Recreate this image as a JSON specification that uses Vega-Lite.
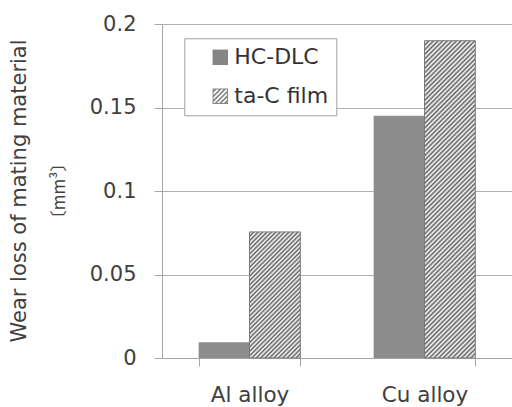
{
  "$schema": "https://vega.github.io/schema/vega-lite/v6.json",
  "width": 350,
  "height": 334,
  "autosize": "none",
  "padding": {"left": 162, "top": 24, "right": 0, "bottom": 49},
  "background": "white",
  "title": {"text": "Wear loss of mating material", "subtitle": "〔mm³〕", "orient": "left", "anchor": "middle", "frame": "group", "offset": 21, "font": "DejaVu Sans", "fontSize": 21, "fontWeight": "normal", "color": "#404040", "subtitleFont": "Noto Sans CJK JP", "subtitleFontSize": 17, "subtitleColor": "#404040", "subtitlePadding": 22},
  "data": {"values": [
    {"material": "Al alloy", "film": "HC-DLC", "wear": 0.0095},
    {"material": "Al alloy", "film": "ta-C film", "wear": 0.0755},
    {"material": "Cu alloy", "film": "HC-DLC", "wear": 0.145},
    {"material": "Cu alloy", "film": "ta-C film", "wear": 0.19}
  ]},
  "encoding": {
    "x": {"field": "material", "type": "nominal", "sort": null,
      "scale": {"paddingInner": 0.419, "paddingOuter": 0.2095},
      "axis": {"title": null, "labelAngle": 0, "labelFont": "DejaVu Sans", "labelFontSize": 21.5, "labelColor": "#404040", "labelPadding": 18, "tickBand": "extent", "tickSize": 8, "tickColor": "#a6a6a6", "domainColor": "#a6a6a6", "grid": false}},
    "xOffset": {"field": "film", "type": "nominal", "sort": null, "scale": {"paddingInner": 0, "paddingOuter": 0}},
    "y": {"field": "wear", "type": "quantitative",
      "scale": {"domain": [0, 0.2], "nice": false},
      "axis": {"values": [0, 0.05, 0.1, 0.15, 0.2], "format": ".2~f", "labelFlush": false, "title": null, "labelFont": "DejaVu Sans", "labelFontSize": 21, "labelColor": "#404040", "labelPadding": 18, "tickSize": 8, "tickColor": "#a6a6a6", "domainColor": "#a6a6a6", "gridColor": "#b0b0b0", "grid": true}}
  },
  "layer": [
    {
      "mark": {"type": "bar", "strokeWidth": 1},
      "encoding": {
        "stroke": {"condition": {"test": "datum.film === 'ta-C film'", "value": "#7a7a7a"}, "value": null},
        "fill": {
          "condition": [
            {"test": "datum.material === 'Al alloy' && datum.film === 'ta-C film'", "value": {"gradient": "linear", "x1": 0, "y1": 0, "x2": 0.4882, "y2": 1.2071, "stops": [
              {"offset":0,"color":"#5f5f5f"},{"offset":0.0125,"color":"#fff"},{"offset":0.025,"color":"#5f5f5f"},{"offset":0.0375,"color":"#fff"},
              {"offset":0.05,"color":"#5f5f5f"},{"offset":0.0625,"color":"#fff"},{"offset":0.075,"color":"#5f5f5f"},{"offset":0.0875,"color":"#fff"},
              {"offset":0.1,"color":"#5f5f5f"},{"offset":0.1125,"color":"#fff"},{"offset":0.125,"color":"#5f5f5f"},{"offset":0.1375,"color":"#fff"},
              {"offset":0.15,"color":"#5f5f5f"},{"offset":0.1625,"color":"#fff"},{"offset":0.175,"color":"#5f5f5f"},{"offset":0.1875,"color":"#fff"},
              {"offset":0.2,"color":"#5f5f5f"},{"offset":0.2125,"color":"#fff"},{"offset":0.225,"color":"#5f5f5f"},{"offset":0.2375,"color":"#fff"},
              {"offset":0.25,"color":"#5f5f5f"},{"offset":0.2625,"color":"#fff"},{"offset":0.275,"color":"#5f5f5f"},{"offset":0.2875,"color":"#fff"},
              {"offset":0.3,"color":"#5f5f5f"},{"offset":0.3125,"color":"#fff"},{"offset":0.325,"color":"#5f5f5f"},{"offset":0.3375,"color":"#fff"},
              {"offset":0.35,"color":"#5f5f5f"},{"offset":0.3625,"color":"#fff"},{"offset":0.375,"color":"#5f5f5f"},{"offset":0.3875,"color":"#fff"},
              {"offset":0.4,"color":"#5f5f5f"},{"offset":0.4125,"color":"#fff"},{"offset":0.425,"color":"#5f5f5f"},{"offset":0.4375,"color":"#fff"},
              {"offset":0.45,"color":"#5f5f5f"},{"offset":0.4625,"color":"#fff"},{"offset":0.475,"color":"#5f5f5f"},{"offset":0.4875,"color":"#fff"},
              {"offset":0.5,"color":"#5f5f5f"},{"offset":0.5125,"color":"#fff"},{"offset":0.525,"color":"#5f5f5f"},{"offset":0.5375,"color":"#fff"},
              {"offset":0.55,"color":"#5f5f5f"},{"offset":0.5625,"color":"#fff"},{"offset":0.575,"color":"#5f5f5f"},{"offset":0.5875,"color":"#fff"},
              {"offset":0.6,"color":"#5f5f5f"},{"offset":0.6125,"color":"#fff"},{"offset":0.625,"color":"#5f5f5f"},{"offset":0.6375,"color":"#fff"},
              {"offset":0.65,"color":"#5f5f5f"},{"offset":0.6625,"color":"#fff"},{"offset":0.675,"color":"#5f5f5f"},{"offset":0.6875,"color":"#fff"},
              {"offset":0.7,"color":"#5f5f5f"},{"offset":0.7125,"color":"#fff"},{"offset":0.725,"color":"#5f5f5f"},{"offset":0.7375,"color":"#fff"},
              {"offset":0.75,"color":"#5f5f5f"},{"offset":0.7625,"color":"#fff"},{"offset":0.775,"color":"#5f5f5f"},{"offset":0.7875,"color":"#fff"},
              {"offset":0.8,"color":"#5f5f5f"},{"offset":0.8125,"color":"#fff"},{"offset":0.825,"color":"#5f5f5f"},{"offset":0.8375,"color":"#fff"},
              {"offset":0.85,"color":"#5f5f5f"},{"offset":0.8625,"color":"#fff"},{"offset":0.875,"color":"#5f5f5f"},{"offset":0.8875,"color":"#fff"},
              {"offset":0.9,"color":"#5f5f5f"},{"offset":0.9125,"color":"#fff"},{"offset":0.925,"color":"#5f5f5f"},{"offset":0.9375,"color":"#fff"},
              {"offset":0.95,"color":"#5f5f5f"},{"offset":0.9625,"color":"#fff"},{"offset":0.975,"color":"#5f5f5f"},{"offset":0.9875,"color":"#fff"},
              {"offset":1,"color":"#5f5f5f"}
            ]}},
            {"test": "datum.material === 'Cu alloy' && datum.film === 'ta-C film'", "value": {"gradient": "linear", "x1": 0, "y1": 0, "x2": 0.1819, "y2": 1.1315, "stops": [
              {"offset":0,"color":"#5f5f5f"},{"offset":0.00625,"color":"#fff"},{"offset":0.0125,"color":"#5f5f5f"},{"offset":0.01875,"color":"#fff"},
              {"offset":0.025,"color":"#5f5f5f"},{"offset":0.03125,"color":"#fff"},{"offset":0.0375,"color":"#5f5f5f"},{"offset":0.04375,"color":"#fff"},
              {"offset":0.05,"color":"#5f5f5f"},{"offset":0.05625,"color":"#fff"},{"offset":0.0625,"color":"#5f5f5f"},{"offset":0.06875,"color":"#fff"},
              {"offset":0.075,"color":"#5f5f5f"},{"offset":0.08125,"color":"#fff"},{"offset":0.0875,"color":"#5f5f5f"},{"offset":0.09375,"color":"#fff"},
              {"offset":0.1,"color":"#5f5f5f"},{"offset":0.10625,"color":"#fff"},{"offset":0.1125,"color":"#5f5f5f"},{"offset":0.11875,"color":"#fff"},
              {"offset":0.125,"color":"#5f5f5f"},{"offset":0.13125,"color":"#fff"},{"offset":0.1375,"color":"#5f5f5f"},{"offset":0.14375,"color":"#fff"},
              {"offset":0.15,"color":"#5f5f5f"},{"offset":0.15625,"color":"#fff"},{"offset":0.1625,"color":"#5f5f5f"},{"offset":0.16875,"color":"#fff"},
              {"offset":0.175,"color":"#5f5f5f"},{"offset":0.18125,"color":"#fff"},{"offset":0.1875,"color":"#5f5f5f"},{"offset":0.19375,"color":"#fff"},
              {"offset":0.2,"color":"#5f5f5f"},{"offset":0.20625,"color":"#fff"},{"offset":0.2125,"color":"#5f5f5f"},{"offset":0.21875,"color":"#fff"},
              {"offset":0.225,"color":"#5f5f5f"},{"offset":0.23125,"color":"#fff"},{"offset":0.2375,"color":"#5f5f5f"},{"offset":0.24375,"color":"#fff"},
              {"offset":0.25,"color":"#5f5f5f"},{"offset":0.25625,"color":"#fff"},{"offset":0.2625,"color":"#5f5f5f"},{"offset":0.26875,"color":"#fff"},
              {"offset":0.275,"color":"#5f5f5f"},{"offset":0.28125,"color":"#fff"},{"offset":0.2875,"color":"#5f5f5f"},{"offset":0.29375,"color":"#fff"},
              {"offset":0.3,"color":"#5f5f5f"},{"offset":0.30625,"color":"#fff"},{"offset":0.3125,"color":"#5f5f5f"},{"offset":0.31875,"color":"#fff"},
              {"offset":0.325,"color":"#5f5f5f"},{"offset":0.33125,"color":"#fff"},{"offset":0.3375,"color":"#5f5f5f"},{"offset":0.34375,"color":"#fff"},
              {"offset":0.35,"color":"#5f5f5f"},{"offset":0.35625,"color":"#fff"},{"offset":0.3625,"color":"#5f5f5f"},{"offset":0.36875,"color":"#fff"},
              {"offset":0.375,"color":"#5f5f5f"},{"offset":0.38125,"color":"#fff"},{"offset":0.3875,"color":"#5f5f5f"},{"offset":0.39375,"color":"#fff"},
              {"offset":0.4,"color":"#5f5f5f"},{"offset":0.40625,"color":"#fff"},{"offset":0.4125,"color":"#5f5f5f"},{"offset":0.41875,"color":"#fff"},
              {"offset":0.425,"color":"#5f5f5f"},{"offset":0.43125,"color":"#fff"},{"offset":0.4375,"color":"#5f5f5f"},{"offset":0.44375,"color":"#fff"},
              {"offset":0.45,"color":"#5f5f5f"},{"offset":0.45625,"color":"#fff"},{"offset":0.4625,"color":"#5f5f5f"},{"offset":0.46875,"color":"#fff"},
              {"offset":0.475,"color":"#5f5f5f"},{"offset":0.48125,"color":"#fff"},{"offset":0.4875,"color":"#5f5f5f"},{"offset":0.49375,"color":"#fff"},
              {"offset":0.5,"color":"#5f5f5f"},{"offset":0.50625,"color":"#fff"},{"offset":0.5125,"color":"#5f5f5f"},{"offset":0.51875,"color":"#fff"},
              {"offset":0.525,"color":"#5f5f5f"},{"offset":0.53125,"color":"#fff"},{"offset":0.5375,"color":"#5f5f5f"},{"offset":0.54375,"color":"#fff"},
              {"offset":0.55,"color":"#5f5f5f"},{"offset":0.55625,"color":"#fff"},{"offset":0.5625,"color":"#5f5f5f"},{"offset":0.56875,"color":"#fff"},
              {"offset":0.575,"color":"#5f5f5f"},{"offset":0.58125,"color":"#fff"},{"offset":0.5875,"color":"#5f5f5f"},{"offset":0.59375,"color":"#fff"},
              {"offset":0.6,"color":"#5f5f5f"},{"offset":0.60625,"color":"#fff"},{"offset":0.6125,"color":"#5f5f5f"},{"offset":0.61875,"color":"#fff"},
              {"offset":0.625,"color":"#5f5f5f"},{"offset":0.63125,"color":"#fff"},{"offset":0.6375,"color":"#5f5f5f"},{"offset":0.64375,"color":"#fff"},
              {"offset":0.65,"color":"#5f5f5f"},{"offset":0.65625,"color":"#fff"},{"offset":0.6625,"color":"#5f5f5f"},{"offset":0.66875,"color":"#fff"},
              {"offset":0.675,"color":"#5f5f5f"},{"offset":0.68125,"color":"#fff"},{"offset":0.6875,"color":"#5f5f5f"},{"offset":0.69375,"color":"#fff"},
              {"offset":0.7,"color":"#5f5f5f"},{"offset":0.70625,"color":"#fff"},{"offset":0.7125,"color":"#5f5f5f"},{"offset":0.71875,"color":"#fff"},
              {"offset":0.725,"color":"#5f5f5f"},{"offset":0.73125,"color":"#fff"},{"offset":0.7375,"color":"#5f5f5f"},{"offset":0.74375,"color":"#fff"},
              {"offset":0.75,"color":"#5f5f5f"},{"offset":0.75625,"color":"#fff"},{"offset":0.7625,"color":"#5f5f5f"},{"offset":0.76875,"color":"#fff"},
              {"offset":0.775,"color":"#5f5f5f"},{"offset":0.78125,"color":"#fff"},{"offset":0.7875,"color":"#5f5f5f"},{"offset":0.79375,"color":"#fff"},
              {"offset":0.8,"color":"#5f5f5f"},{"offset":0.80625,"color":"#fff"},{"offset":0.8125,"color":"#5f5f5f"},{"offset":0.81875,"color":"#fff"},
              {"offset":0.825,"color":"#5f5f5f"},{"offset":0.83125,"color":"#fff"},{"offset":0.8375,"color":"#5f5f5f"},{"offset":0.84375,"color":"#fff"},
              {"offset":0.85,"color":"#5f5f5f"},{"offset":0.85625,"color":"#fff"},{"offset":0.8625,"color":"#5f5f5f"},{"offset":0.86875,"color":"#fff"},
              {"offset":0.875,"color":"#5f5f5f"},{"offset":0.88125,"color":"#fff"},{"offset":0.8875,"color":"#5f5f5f"},{"offset":0.89375,"color":"#fff"},
              {"offset":0.9,"color":"#5f5f5f"},{"offset":0.90625,"color":"#fff"},{"offset":0.9125,"color":"#5f5f5f"},{"offset":0.91875,"color":"#fff"},
              {"offset":0.925,"color":"#5f5f5f"},{"offset":0.93125,"color":"#fff"},{"offset":0.9375,"color":"#5f5f5f"},{"offset":0.94375,"color":"#fff"},
              {"offset":0.95,"color":"#5f5f5f"},{"offset":0.95625,"color":"#fff"},{"offset":0.9625,"color":"#5f5f5f"},{"offset":0.96875,"color":"#fff"},
              {"offset":0.975,"color":"#5f5f5f"},{"offset":0.98125,"color":"#fff"},{"offset":0.9875,"color":"#5f5f5f"},{"offset":0.99375,"color":"#fff"},
              {"offset":1,"color":"#5f5f5f"}
            ]}}
          ],
          "value": "#8c8c8c"
        }
      }
    },
    {
      "mark": {"type": "point", "opacity": 0, "filled": true, "color": "#858585"},
      "encoding": {
        "shape": {
          "field": "film", "type": "nominal",
          "scale": {"domain": ["HC-DLC", "ta-C film"], "range": ["square", "M-1,-1H1V1H-1ZM-0.87,-0.87V0.87H0.87V-0.87ZM-1,-0.65L-0.65,-1L-0.35,-1L-1,-0.35ZM-1,-0.05L-0.05,-1L0.25,-1L-1,0.25ZM-1,0.55L0.55,-1L0.85,-1L-1,0.85ZM-0.85,1L1,-0.85L1,-0.55L-0.55,1ZM-0.25,1L1,-0.25L1,0.05L0.05,1ZM0.35,1L1,0.35L1,0.65L0.65,1Z"]},
          "legend": {
            "title": null, "orient": "none", "legendX": 22.3, "legendY": 14.3, "direction": "vertical",
            "symbolSize": 240, "symbolOffset": 17, "symbolOpacity": 1, "symbolStrokeWidth": 0, "symbolFillColor": "#858585",
            "labelOffset": 3, "labelFont": "DejaVu Sans", "labelFontSize": 22, "labelColor": "#333333",
            "rowPadding": 17, "padding": 8, "strokeColor": "#a0a0a0", "fillColor": "white"
          }
        }
      }
    }
  ],
  "config": {
    "view": {"stroke": null},
    "axis": {"domainWidth": 1, "tickWidth": 1, "gridWidth": 1}
  }
}
